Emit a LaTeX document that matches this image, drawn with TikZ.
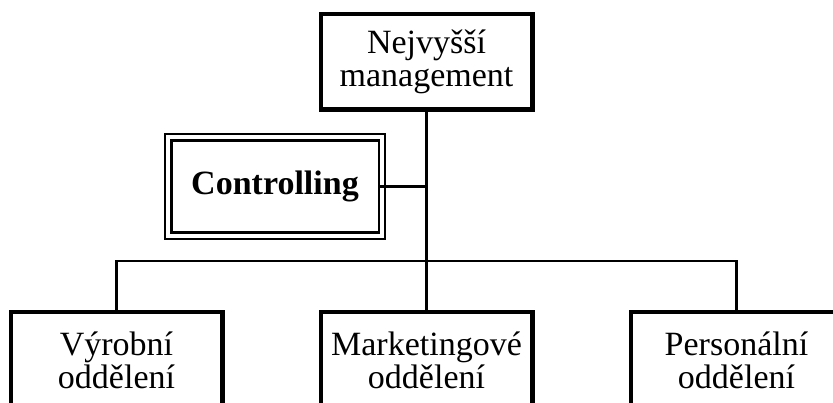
\documentclass[tikz,border=0pt]{standalone}
\usepackage{fontspec}
\setmainfont{Liberation Serif}
\begin{document}
\begin{tikzpicture}[x=1pt,y=-1pt,
  unit/.style={draw, line width=4.5pt, rectangle, inner sep=0pt, outer sep=0pt,
    minimum width=211.5pt, minimum height=95.5pt, align=center,
    font=\fontsize{34}{33}\selectfont},
  ctrlbox/.style={draw, line width=2.5pt, rectangle, inner sep=0pt, outer sep=0pt,
    minimum width=207.5pt, minimum height=92pt, align=center,
    font=\fontsize{34}{33}\selectfont\bfseries},
  conn/.style={line width=2.2pt}]
\useasboundingbox (0,0) rectangle (833,403);
\clip (0,0) rectangle (833,403);
\node[unit] (top) at (426.5,62) {Nejvyšší\\management};
\node[ctrlbox] (ctrl) at (275,186.5) {Controlling};
\draw[line width=2pt] ([shift={(-6.25,-6.25)}]ctrl.north west) rectangle ([shift={(6.25,6.25)}]ctrl.south east);
\node[unit] (vyr) at (116.5,360) {Výrobní\\oddělení};
\node[unit] (mkt) at (426.5,360) {Marketingové\\oddělení};
\node[unit] (per) at (736.5,360) {Personální\\oddělení};
\coordinate (bus) at (426.5,261);
\draw[conn] (top.south) -- (mkt.north);
\draw[conn] (ctrl.east) -- (ctrl.east -| top.south);
\draw[conn] (vyr.north) |- (bus) -| (per.north);
\end{tikzpicture}
\end{document}
